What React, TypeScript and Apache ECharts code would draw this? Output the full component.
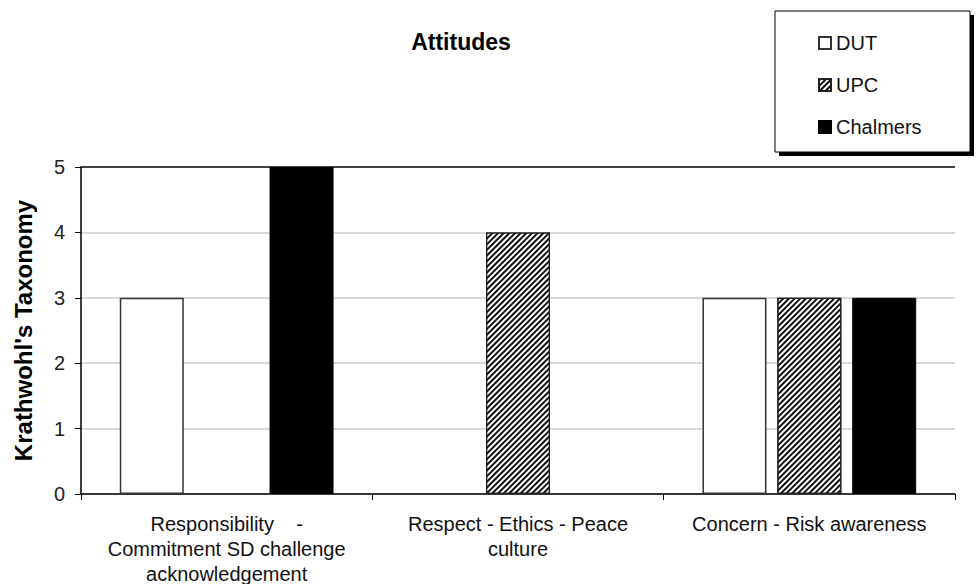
import React, { useEffect, useRef } from "react";
import * as echarts from "echarts";

const categories = [
  "Responsibility    -\nCommitment SD challenge\nacknowledgement",
  "Respect - Ethics - Peace\nculture",
  "Concern - Risk awareness",
];
const seriesNames = ["DUT", "UPC", "Chalmers"];
const dutValues = [3, null, 3];
const upcValues = [null, 4, 3];
const chalmersValues = [5, null, 3];
const yTicks = [0, 1, 2, 3, 4, 5];

const FONT = "'Liberation Sans', Arial, sans-serif";

export default function App() {
  const ref = useRef<HTMLDivElement>(null);
  useEffect(() => {
    const chart = echarts.init(ref.current!, null, { renderer: "svg" });
    const stripe = {
      symbol: "rect",
      symbolSize: 1,
      rotation: -Math.PI / 4,
      dashArrayX: [1, 0],
      dashArrayY: [2, 2],
      color: "#111",
      backgroundColor: "#fff",
    };
    chart.setOption({
      animation: false,
      backgroundColor: "#fff",
      textStyle: { fontFamily: FONT },
      title: {
        text: "Attitudes",
        left: 456,
        top: 25,
        textAlign: "center",
        textStyle: { fontSize: 23, fontWeight: "bold", color: "#000", fontFamily: FONT },
      },
      graphic: [
        { type: "rect", shape: { x: 779, y: 15, width: 195, height: 141 }, style: { fill: "#000" }, z: 0 },
        { type: "rect", shape: { x: 775, y: 11, width: 195, height: 141 }, style: { fill: "#fff", stroke: "#000", lineWidth: 1 }, z: 1 },
      ],
      legend: {
        orient: "vertical",
        left: 813,
        top: 28,
        itemGap: 22,
        itemWidth: 12,
        itemHeight: 12,
        icon: "rect",
        z: 10,
        data: seriesNames,
        textStyle: { fontSize: 20, color: "#111", fontFamily: FONT, padding: [0, 0, 0, 0] },
      },
      grid: { left: 81, right: 22, top: 167, bottom: 90, containLabel: false, outerBoundsMode: "none" },
      xAxis: {
        type: "category",
        data: categories,
        axisLine: { lineStyle: { color: "#000", width: 1.5 } },
        axisTick: { show: true, length: 6, lineStyle: { color: "#000" } },
        axisLabel: {
          interval: 0,
          fontSize: 20,
          lineHeight: 25,
          margin: 17,
          color: "#111",
          fontFamily: FONT,
        },
      },
      yAxis: {
        type: "value",
        min: 0,
        max: 5,
        interval: 1,
        name: "Krathwohl's Taxonomy",
        nameLocation: "middle",
        nameGap: 46,
        nameTextStyle: { fontSize: 24, fontWeight: "bold", color: "#000", fontFamily: FONT },
        axisLine: { show: true, lineStyle: { color: "#000", width: 1.5 } },
        axisTick: { show: true, length: 6, lineStyle: { color: "#000" } },
        axisLabel: {
          fontSize: 20,
          margin: 16,
          color: "#222",
          fontFamily: FONT,
          formatter: (v: number) => (yTicks.includes(v) ? String(v) : ""),
        },
        splitLine: {
          show: true,
          lineStyle: { color: ["#ccc", "#ccc", "#ccc", "#ccc", "#ccc", "#000"], width: 1.5 },
        },
      },
      series: [
        {
          name: "DUT",
          type: "bar",
          data: dutValues,
          barWidth: 64,
          barGap: "17%",
          itemStyle: { color: "#fff", borderColor: "#333", borderWidth: 1.5 },
        },
        {
          name: "UPC",
          type: "bar",
          data: upcValues,
          barWidth: 64,
          barGap: "17%",
          itemStyle: { color: "#fff", borderColor: "#222", borderWidth: 1.2, decal: stripe },
        },
        {
          name: "Chalmers",
          type: "bar",
          data: chalmersValues,
          barWidth: 64,
          barGap: "17%",
          itemStyle: { color: "#000", borderColor: "#000", borderWidth: 1 },
        },
      ],
    });
    return () => chart.dispose();
  }, []);
  return (
    <div
      ref={ref}
      style={{ position: "fixed", left: 0, top: 0, width: 977, height: 584 }}
    />
  );
}
